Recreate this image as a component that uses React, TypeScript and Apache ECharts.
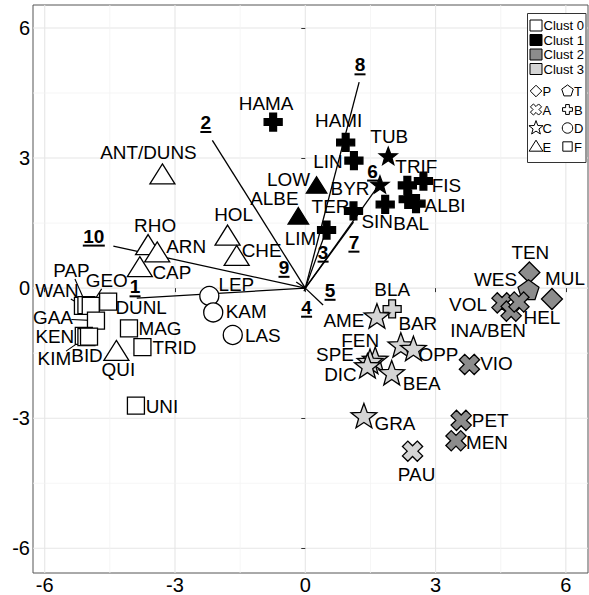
import React, { useEffect, useRef } from "react";
import * as echarts from "echarts";

const FONT = '"Liberation Sans", Arial, Helvetica, sans-serif';

// ---- axes ----
const X_MIN = -6.27;
const X_MAX = 6.51;
const Y_MIN = -6.57;
const Y_MAX = 6.53;
const tickValues = [-6, -3, 0, 3, 6];
const minorValues = [-4.5, -1.5, 1.5, 4.5];

// ---- clusters & shapes ----
const clusterNames = ["Clust 0", "Clust 1", "Clust 2", "Clust 3"];
const clusterFill = ["#ffffff", "#000000", "#8c8c8c", "#d4d4d4"];
const shapeLegend = [
  ["P", "T"],
  ["A", "B"],
  ["C", "D"],
  ["E", "F"],
];

// ---- points ----
const pointNames = [
  "HAMA", "HAMI", "LIN", "TUB", "BYR", "TRIF", "FIS", "BAL", "ALBI", "SIN", "TER", "LIM", "LOW", "ALBE",
  "ANT/DUNS", "RHO", "ARN", "CAP", "HOL", "CHE", "LEP", "KAM", "LAS", "QUI", "DUNL", "MAG", "TRID", "UNI",
  "WAN", "PAP", "GEO", "GAA", "KEN", "KIM", "BID",
  "TEN", "MUL", "WES", "VOL", "INA/BEN", "HEL", "VIO", "PET", "MEN",
  "BLA", "AME", "BAR", "OPP", "FEN", "SPE", "DIC", "BEA", "GRA", "PAU",
];
const pointX = [
  -0.74, 0.93, 1.12, 1.91, 1.72, 2.35, 2.72, 2.37, 2.55, 1.84, 1.11, 0.49, 0.26, -0.16,
  -3.29, -3.62, -3.41, -3.81, -1.79, -1.58, -2.21, -2.12, -1.67, -4.35, -4.54, -4.06, -3.75, -3.9,
  -5.12, -5.04, -4.94, -4.82, -5.1, -5.04, -4.98,
  5.16, 5.68, 5.14, 4.53, 4.74, 4.92, 3.78, 3.59, 3.47,
  2.0, 1.65, 2.2, 2.49, 1.61, 1.49, 1.43, 1.99, 1.35, 2.47,
];
const pointY = [
  3.83, 3.36, 2.94, 3.03, 2.37, 2.37, 2.47, 2.05, 1.95, 1.93, 1.78, 1.34, 2.35, 1.64,
  2.6, 0.97, 0.8, 0.46, 1.19, 0.72, -0.18, -0.56, -1.08, -1.47, -0.31, -0.93, -1.36, -2.71,
  -0.41, -0.39, -0.41, -0.75, -1.1, -1.13, -1.12,
  0.36, -0.25, -0.06, -0.34, -0.53, -0.32, -1.76, -3.05, -3.52,
  -0.48, -0.67, -1.34, -1.42, -1.67, -1.72, -1.82, -1.98, -2.97, -3.76,
];
const pointCluster = [
  1, 1, 1, 1, 1, 1, 1, 1, 1, 1, 1, 1, 1, 1,
  0, 0, 0, 0, 0, 0, 0, 0, 0, 0, 0, 0, 0, 0,
  0, 0, 0, 0, 0, 0, 0,
  2, 2, 2, 2, 2, 2, 2, 2, 2,
  3, 3, 3, 3, 3, 3, 3, 3, 3, 3,
];
const pointShape = [
  "B", "B", "B", "C", "C", "B", "B", "B", "B", "B", "B", "B", "E", "E",
  "E", "E", "E", "E", "E", "E", "D", "D", "D", "E", "F", "F", "F", "F",
  "F", "F", "F", "F", "F", "F", "F",
  "P", "P", "T", "A", "A", "A", "A", "A", "A",
  "B", "C", "C", "C", "C", "C", "C", "C", "C", "A",
];
// label nudges (pixels) relative to each point, and whether a leader segment is drawn
const labelDx = [
  -7, -7, -26, 1, -30, 9, 23, 3, 29, -8, -23, -26, -28, -24,
  -14, 7, 29, 32, 6, 25, 27, 33, 30, 2, 33, 31, 32, 26,
  -26, -15, 16, -43, -29, -32, -2,
  1, 13, -33, -34, -23, 23, 27, 29, 31,
  0, -33, 17, 25, -15, -35, -27, 30, 31, 4,
];
const labelDy = [
  -18, -21, 2, -20, 4, -18, 5, 25, 3, 18, -4, 9, -6, -18,
  -22, -20, -6, 5, -21, -6, -11, 0, 1, 18, 7, 1, 1, 2,
  -15, -34, -25, -2, 1, 22, 20,
  -19, -20, -10, 2, 20, 16, 0, 1, 2,
  -19, 4, -22, 6, -19, -7, 8, 10, 7, 24,
];
const labelSegment = [
  0, 0, 0, 0, 0, 0, 0, 0, 0, 0, 0, 0, 0, 0,
  0, 0, 0, 0, 0, 0, 0, 0, 0, 0, 0, 0, 0, 0,
  1, 1, 1, 1, 0, 1, 0,
  0, 0, 0, 0, 0, 0, 0, 0, 0,
  0, 0, 0, 0, 0, 0, 0, 0, 0, 0,
];

// ---- biplot vectors ----
const vecNames = ["1", "2", "3", "4", "5", "6", "7", "8", "9", "10"];
const vecX = [-3.88, -2.14, 0.45, -0.03, 0.41, 1.61, 1.11, 1.24, -0.21, -4.42];
const vecY = [-0.23, 3.41, 1.24, -0.07, -0.39, 2.26, 1.52, 4.75, 0.14, 0.97];
const vecLabelX = [-3.92, -2.29, 0.41, 0.03, 0.57, 1.55, 1.12, 1.26, -0.49, -4.87];
const vecLabelY = [0.03, 3.82, 0.83, -0.44, -0.05, 2.7, 1.06, 5.15, 0.48, 1.2];

// ---- shape geometry ----
function plusPts(L: number, w: number, rot: number) {
  const base = [
    [-w, -L], [w, -L], [w, -w], [L, -w], [L, w], [w, w],
    [w, L], [-w, L], [-w, w], [-L, w], [-L, -w], [-w, -w],
  ];
  const c = Math.cos(rot), s = Math.sin(rot);
  return base.map(([x, y]) => [x * c - y * s, x * s + y * c]);
}
function starPts(outer: number, inner: number) {
  const pts: number[][] = [];
  for (let k = 0; k < 10; k++) {
    const r = k % 2 === 0 ? outer : inner;
    const a = -Math.PI / 2 + (k * Math.PI) / 5;
    pts.push([r * Math.cos(a), r * Math.sin(a)]);
  }
  return pts;
}
function regPts(n: number, r: number) {
  const pts: number[][] = [];
  for (let k = 0; k < n; k++) {
    const a = -Math.PI / 2 + (k * 2 * Math.PI) / n;
    pts.push([r * Math.cos(a), r * Math.sin(a)]);
  }
  return pts;
}
function shapeGeom(shape: string, scale: number) {
  let pts: number[][] | null = null;
  let r = 0;
  switch (shape) {
    case "P": pts = [[0, -10.5], [10.5, 0], [0, 10.5], [-10.5, 0]]; break;
    case "T": pts = regPts(5, 11); break;
    case "A": pts = plusPts(10.5, 3.8, Math.PI / 4); break;
    case "B": pts = plusPts(9, 3.4, 0); break;
    case "C": pts = starPts(13.5, 5.6); break;
    case "D": r = 9.5; break;
    case "E": pts = [[0, -11.5], [12.5, 8.5], [-12.5, 8.5]]; break;
    case "F": pts = [[-8.5, -8.5], [8.5, -8.5], [8.5, 8.5], [-8.5, 8.5]]; break;
  }
  return { pts: pts ? pts.map(([x, y]) => [x * scale, y * scale]) : null, r: r * scale };
}
function solidScale(shape: string, cluster: number) {
  if (clusterFill[cluster] !== "#000000") return 1;
  if (shape === "C") return 0.7;
  if (shape === "E") return 0.82;
  return 1;
}
function shapeElement(shape: string, cx: number, cy: number, fill: string, scale: number, lw: number) {
  const g = shapeGeom(shape, scale);
  const style = { fill, stroke: "#000", lineWidth: lw };
  if (!g.pts) return { type: "circle", shape: { cx, cy, r: g.r }, style };
  return { type: "polygon", shape: { points: g.pts.map(([x, y]) => [cx + x, cy + y]) }, style };
}

export default function App() {
  const ref = useRef<HTMLDivElement>(null);
  useEffect(() => {
    if (!ref.current) return;
    const chart = echarts.init(ref.current, undefined, { renderer: "svg" });

    const gridData: number[][] = [];
    tickValues.forEach((v) => { gridData.push([v, 0, 1, 0]); gridData.push([0, v, 1, 1]); });
    minorValues.forEach((v) => { gridData.push([v, 0, 0, 0]); gridData.push([0, v, 0, 1]); });

    const legendEls: any[] = [
      { type: "rect", shape: { x: 527.5, y: 13.5, width: 58.5, height: 149 }, style: { fill: "#fff", stroke: "#333", lineWidth: 1 }, z: 100 },
    ];
    clusterNames.forEach((n, i) => {
      const cy = 25.5 + i * 14.5;
      legendEls.push({ type: "rect", shape: { x: 530, y: cy - 5.5, width: 12, height: 11 }, style: { fill: clusterFill[i], stroke: "#000", lineWidth: 1 }, z: 101 });
      legendEls.push({ type: "text", x: 543.5, y: cy, style: { text: n, fontSize: 13, fontFamily: FONT, fill: "#000", align: "left", verticalAlign: "middle" }, z: 101 });
    });
    shapeLegend.forEach((row, r) => {
      const cy = 91 + r * 18.5;
      row.forEach((s, c) => {
        const cx = c === 0 ? 536 : 567.5;
        const el: any = shapeElement(s, cx, cy, "#fff", 0.55, 1);
        el.z = 101;
        legendEls.push(el);
        legendEls.push({ type: "text", x: cx + 6.5, y: cy + 0.5, style: { text: s, fontSize: 13, fontFamily: FONT, fill: "#000", align: "left", verticalAlign: "middle" }, z: 101 });
      });
    });

    const pointData = pointX.map((x, i) => [x, pointY[i], i]);

    const option: any = {
      animation: false,
      grid: { left: 33, right: 1, top: 5, bottom: 20, show: true, borderColor: "#555", borderWidth: 1, backgroundColor: "#fff" },
      xAxis: {
        type: "value", min: X_MIN, max: X_MAX,
        axisLine: { show: false }, splitLine: { show: false },
        axisTick: { show: true, customValues: tickValues, length: 4, lineStyle: { color: "#333" } },
        axisLabel: { customValues: tickValues, color: "#000", fontSize: 20, fontFamily: FONT, margin: 2 },
      },
      yAxis: {
        type: "value", min: Y_MIN, max: Y_MAX,
        axisLine: { show: false }, splitLine: { show: false },
        axisTick: { show: true, customValues: tickValues, length: 4, lineStyle: { color: "#333" } },
        axisLabel: { customValues: tickValues, color: "#000", fontSize: 20, fontFamily: FONT, margin: 3 },
      },
      series: [
        {
          type: "custom", coordinateSystem: "cartesian2d", silent: true, z: 0,
          data: gridData, encode: { x: 0, y: 1 },
          renderItem: (params: any, api: any) => {
            const v0 = api.value(0), v1 = api.value(1), major = api.value(2), horiz = api.value(3);
            const a = horiz ? api.coord([X_MIN, v1]) : api.coord([v0, Y_MIN]);
            const b = horiz ? api.coord([X_MAX, v1]) : api.coord([v0, Y_MAX]);
            return { type: "line", shape: { x1: a[0], y1: a[1], x2: b[0], y2: b[1] }, style: { stroke: major ? "#e6e6e6" : "#f2f2f2", lineWidth: major ? 1.1 : 0.8 } };
          },
        },
        {
          type: "custom", coordinateSystem: "cartesian2d", silent: true, z: 2,
          data: vecX.map((x, i) => [x, vecY[i], vecLabelX[i], vecLabelY[i]]), encode: { x: 0, y: 1 },
          renderItem: (params: any, api: any) => {
            const i = params.dataIndex;
            const o = api.coord([0, 0]);
            const e = api.coord([api.value(0), api.value(1)]);
            const l = api.coord([api.value(2), api.value(3)]);
            const w = vecNames[i].length * 11;
            return {
              type: "group",
              children: [
                { type: "line", shape: { x1: o[0], y1: o[1], x2: e[0], y2: e[1] }, style: { stroke: "#000", lineWidth: 1.3 } },
                { type: "text", x: l[0], y: l[1], style: { text: vecNames[i], fontSize: 19, fontWeight: "bold", fontFamily: FONT, fill: "#000", align: "center", verticalAlign: "middle" } },
                { type: "line", shape: { x1: l[0] - w / 2, y1: l[1] + 9.5, x2: l[0] + w / 2, y2: l[1] + 9.5 }, style: { stroke: "#000", lineWidth: 2 } },
              ],
            };
          },
        },
        {
          type: "custom", coordinateSystem: "cartesian2d", silent: true, z: 3,
          data: pointData, encode: { x: 0, y: 1 },
          renderItem: (params: any, api: any) => {
            const i = api.value(2);
            if (!labelSegment[i]) return { type: "group", children: [] };
            const p = api.coord([api.value(0), api.value(1)]);
            const lx = p[0] + labelDx[i], ly = p[1] + labelDy[i];
            const dx = lx - p[0], dy = ly - p[1];
            const hw = pointNames[i].length * 5.8 + 1, hh = 8;
            const t = Math.min(dx !== 0 ? hw / Math.abs(dx) : 99, dy !== 0 ? hh / Math.abs(dy) : 99);
            return { type: "line", shape: { x1: p[0], y1: p[1], x2: lx - t * dx, y2: ly - t * dy }, style: { stroke: "#000", lineWidth: 1.1 } };
          },
        },
        {
          type: "custom", coordinateSystem: "cartesian2d", silent: true, z: 4,
          data: pointData, encode: { x: 0, y: 1 },
          renderItem: (params: any, api: any) => {
            const i = api.value(2);
            const p = api.coord([api.value(0), api.value(1)]);
            const s = pointShape[i], c = pointCluster[i];
            return shapeElement(s, p[0], p[1], clusterFill[c], solidScale(s, c), 1.3);
          },
        },
        {
          type: "custom", coordinateSystem: "cartesian2d", silent: true, z: 5,
          data: pointData, encode: { x: 0, y: 1 },
          renderItem: (params: any, api: any) => {
            const i = api.value(2);
            const p = api.coord([api.value(0), api.value(1)]);
            return { type: "text", x: p[0] + labelDx[i], y: p[1] + labelDy[i], scaleX: 1.08, style: { text: pointNames[i], fontSize: 17.5, fontFamily: FONT, fill: "#000", align: "center", verticalAlign: "middle" } };
          },
        },
      ],
      graphic: legendEls,
    };
    chart.setOption(option);
    return () => chart.dispose();
  }, []);
  return <div ref={ref} style={{ position: "absolute", left: 0, top: 0, width: 589, height: 595, background: "#fff" }} />;
}
